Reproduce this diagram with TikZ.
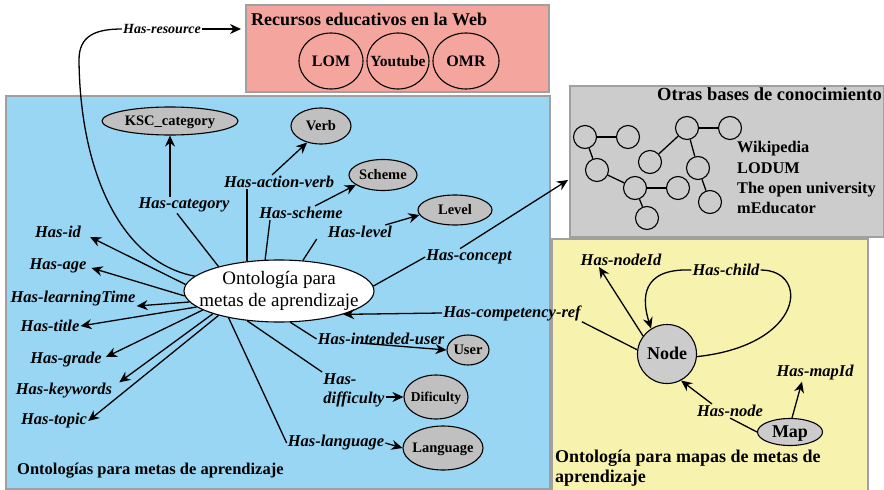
\documentclass[tikz,border=0pt]{standalone}
\usepackage{fontspec}
\setmainfont{Liberation Serif}
\usetikzlibrary{shapes.geometric,arrows.meta}
\definecolor{pinkbg}{RGB}{244,166,158}
\definecolor{bluebg}{RGB}{152,214,244}
\definecolor{graybg}{RGB}{204,204,204}
\definecolor{yellowbg}{RGB}{247,243,175}
\definecolor{ellgray}{RGB}{192,192,192}
\definecolor{boxline}{RGB}{160,160,160}
\newcommand\ctext[1]{\raisebox{-.33em}[0pt][0pt]{\makebox[0pt]{#1}}}
\begin{document}
\begin{tikzpicture}[x=1pt,y=-1pt,
  panel/.style={draw=boxline, line width=1.5pt, rectangle, inner sep=0pt, anchor=north west},
  lbl/.style={font=\bfseries\itshape\fontsize{16.5}{19}\selectfont, inner sep=1pt},
  gell/.style={ellipse, draw, line width=1.1pt, fill=ellgray, inner sep=0pt, font=\bfseries\fontsize{14.5}{17}\selectfont},
  ring/.style={ellipse, draw, line width=1.1pt, inner sep=0pt, font=\bfseries\fontsize{16}{18}\selectfont},
  arr/.style={line width=1.3pt, -{Stealth[length=11pt,width=10pt]}},
  ln/.style={line width=1.3pt},
  kb/.style={circle, draw, line width=1.1pt, minimum size=23pt, inner sep=0pt},
  ttl/.style={font=\bfseries\fontsize{16.5}{20}\selectfont, inner sep=0pt, anchor=base west}
]
\useasboundingbox (0,0) rectangle (884,490);

% panels
\node[panel, fill=bluebg, minimum width=544pt, minimum height=393pt] (bluebox) at (5,95) {};
\node[panel, fill=pinkbg, minimum width=303pt, minimum height=87pt] (webbox) at (245,4) {};
\node[panel, fill=graybg, minimum width=314pt, minimum height=151pt] (kbbox) at (569,85) {};
\node[panel, fill=yellowbg, minimum width=316pt, minimum height=260pt] (ybox) at (551,238) {};

% titles
\node[ttl, font=\bfseries\fontsize{18}{21}\selectfont] (webtitle) at (251,25) {Recursos educativos en la Web};
\node[ttl] (bluetitle) at (17,474) {Ontologías para metas de aprendizaje};
\node[ttl, font=\bfseries\fontsize{18.5}{21}\selectfont] (kbtitle) at (657,100) {Otras bases de conocimiento};
\node[ttl, font=\bfseries\fontsize{18}{21}\selectfont] (ytitle1) at (555,462) {Ontología para mapas de metas de};
\node[ttl, font=\bfseries\fontsize{18}{21}\selectfont] (ytitle2) at (555,482) {aprendizaje};

% web resources
\node[ring, minimum width=64pt, minimum height=56pt] (lom) at (331,61) {\ctext{LOM}};
\node[ring, minimum width=62pt, minimum height=56pt, font=\bfseries\fontsize{15.5}{18}\selectfont] (yt) at (398,61) {\ctext{Youtube}};
\node[ring, minimum width=66pt, minimum height=56pt] (omr) at (466,61) {\ctext{OMR}};

% knowledge bases graph
\node[kb] (k1) at (585,137) {};
\node[kb] (k2) at (628,137) {};
\node[kb] (k3) at (597,170) {};
\node[kb] (k4) at (635,188) {};
\node[kb] (k5) at (647,218) {};
\node[kb] (k6) at (650,162) {};
\node[kb] (k7) at (687,128) {};
\node[kb] (k8) at (730,128) {};
\node[kb] (k9) at (698,168) {};
\node[kb] (k10) at (678,188) {};
\node[kb] (k11) at (710,202) {};
\draw[ln] (k1) -- (k2);
\draw[ln] (k1) -- (k3);
\draw[ln] (k3) -- (k4);
\draw[ln] (k4) -- (k10);
\draw[ln] (k4) -- (k5);
\draw[ln] (k6) -- (k7);
\draw[ln] (k7) -- (k8);
\draw[ln] (k7) -- (k9);
\draw[ln] (k9) -- (k11);
\node[ttl, font=\bfseries\fontsize{16.3}{20}\selectfont] (w1) at (737,152) {Wikipedia};
\node[ttl, font=\bfseries\fontsize{16.3}{20}\selectfont] (w2) at (737,173) {LODUM};
\node[ttl, font=\bfseries\fontsize{16.3}{20}\selectfont] (w3) at (737,193) {The open university};
\node[ttl, font=\bfseries\fontsize{16.3}{20}\selectfont] (w4) at (737,213) {mEducator};

% main ontology
\node[ellipse, draw, fill=white, line width=1.1pt, minimum width=190pt, minimum height=62pt, inner sep=0pt,
  font=\fontsize{19}{22}\selectfont] (onto) at (279,291)
  {\raisebox{-.25em}[0pt][0pt]{\makebox[0pt]{\begin{tabular}{@{}c@{}}Ontología para\\metas de aprendizaje\end{tabular}}}};

% gray concept ellipses
\node[gell, minimum width=136pt, minimum height=28pt] (ksc) at (170,121) {\ctext{KSC\_category}};
\node[gell, minimum width=60pt, minimum height=36pt] (verb) at (321,126) {\ctext{Verb}};
\node[gell, minimum width=68pt, minimum height=31pt] (scheme) at (383,175) {\ctext{Scheme}};
\node[gell, minimum width=74pt, minimum height=30pt] (level) at (455,210) {\ctext{Level}};
\node[gell, minimum width=42pt, minimum height=30pt] (user) at (468,350) {\ctext{User}};
\node[gell, minimum width=64pt, minimum height=44pt, font=\bfseries\fontsize{13.5}{16}\selectfont] (dific) at (436,397) {\ctext{Dificulty}};
\node[gell, minimum width=80pt, minimum height=44pt] (lang) at (443,448) {\ctext{Language}};

% labels around ontology
\node[lbl, font=\bfseries\itshape\fontsize{14}{16}\selectfont] (hres) at (162,29) {Has-resource};
\node[lbl] (hcat) at (184,205) {Has-category};
\node[lbl] (haverb) at (279,182) {Has-action-verb};
\node[lbl] (hsch) at (301,213) {Has-scheme};
\node[lbl] (hlev) at (360,232) {Has-level};
\node[lbl] (hconc) at (469,257) {Has-concept};
\node[lbl] (hcomp) at (512,313) {Has-competency-ref};
\node[lbl] (hiu) at (381,339) {Has-intended-user};
\node[lbl, align=left] (hdif) at (354,390) {Has-\\difficulty};
\node[lbl] (hlang) at (336,443) {Has-language};
\node[lbl] (hid) at (58,232) {Has-id};
\node[lbl] (hage) at (58,266) {Has-age};
\node[lbl] (hlt) at (73,299) {Has-learningTime};
\node[lbl] (htit) at (50,326) {Has-title};
\node[lbl] (hgrd) at (66,360) {Has-grade};
\node[lbl] (hkey) at (64,391) {Has-keywords};
\node[lbl] (htop) at (54,421) {Has-topic};

\coordinate (kbin) at (568,180);

% connectors
\draw[ln] (onto.170) .. controls (120,262) and (80,170) .. (79,60) .. controls (79,36) and (95,29) .. (hres.west);
\draw[arr, shorten >=4pt] (hres.east) -- (webbox.west |- hres.east);

\draw[ln] (onto.158) -- ([xshift=-7pt]hcat.south);
\draw[arr] (hcat.north -| ksc.south) -- (ksc.south);

\draw[ln] (onto.137) -- (onto.137 |- haverb.south);
\draw[arr] ([xshift=-7pt]haverb.north) -- (verb.230);

\draw[ln] (onto.114) -- ([xshift=-31pt]hsch.south);
\draw[arr] ([xshift=14pt]hsch.north) -- (scheme.200);

\draw[ln] (onto.52) -- ([xshift=-10pt]hlev.south west);
\draw[arr] ([xshift=-8pt]hlev.north east) -- (level.188);

\draw[ln] (onto.3) -- (hconc.west);
\draw[arr] ([xshift=-9pt]hconc.north) -- (kbin);

\draw[arr] (hcomp.west) -- (onto.340);

\draw[ln] (onto.290) -- (hiu.west);
\draw[arr] ([xshift=-21pt,yshift=3pt]hiu.south) -- (user.180);

\draw[ln] (onto.223) -- (hdif.north west);
\draw[arr] ([yshift=-7pt]hdif.east) -- (dific.west);

\draw[ln] (onto.208) -- (hlang.west);
\draw[arr] (hlang.east) -- (lang.west);

\draw[arr] (onto.176) -- ([xshift=8pt,yshift=-5pt]hid.east);
\draw[arr] (onto.183) -- ([xshift=4pt,yshift=-2pt]hage.east);
\draw[arr] (onto.187) -- ([yshift=-7pt]hlt.east);
\draw[arr] (onto.191) -- (htit.east);
\draw[arr] (onto.194) -- ([xshift=3pt,yshift=3pt]hgrd.east);
\draw[arr] (onto.199) -- ([xshift=6pt]hkey.north east);
\draw[arr] (onto.202) -- (htop.east);

% map ontology
\node[circle, draw, fill=graybg, line width=1.1pt, minimum size=59pt, inner sep=0pt, font=\bfseries\fontsize{18}{20}\selectfont] (nodec) at (667,354) {\ctext{Node}};
\node[gell, fill=graybg, minimum width=65pt, minimum height=27pt, font=\bfseries\fontsize{18}{20}\selectfont] (map) at (790,432) {\ctext{Map}};
\node[lbl] (hnid) at (621,260) {Has-nodeId};
\node[lbl] (hchild) at (726,270) {Has-child};
\node[lbl] (hmid) at (815,373) {Has-mapId};
\node[lbl] (hnode) at (730,411) {Has-node};

\draw[ln] (hcomp.south east) -- (nodec.172);
\draw[arr] (nodec.143) -- ([xshift=-22pt]hnid.south);
\draw[ln] (nodec.-5) .. controls (805,345) and (810,270) .. (hchild.east);
\draw[arr] (hchild.west) .. controls (640,268) and (642,300) .. (nodec.122);
\draw[arr] ([xshift=2pt]map.north) -- ([xshift=-13pt]hmid.south);
\draw[ln] (map.west) -- (hnode.south);
\draw[arr] ([xshift=-18pt]hnode.north) -- (nodec.298);
\end{tikzpicture}
\end{document}
